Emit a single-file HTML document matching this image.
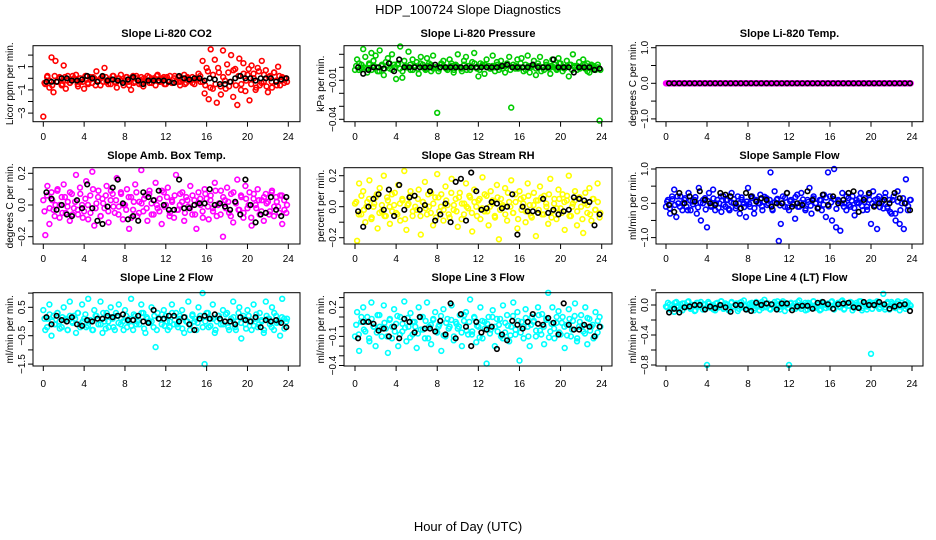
<!DOCTYPE html>
<html><head><meta charset="utf-8"><style>
html,body{margin:0;padding:0;background:#fff}
svg{display:block;font-family:"Liberation Sans",Arial,sans-serif}
</style></head><body>
<svg id="chart" width="936" height="540" viewBox="0 0 936 540" xmlns="http://www.w3.org/2000/svg">
<text x="468" y="14" font-size="13" text-anchor="middle">HDP_100724  Slope Diagnostics</text>
<text x="468" y="531" font-size="13" text-anchor="middle">Hour of Day (UTC)</text>
</svg>
<script>
// ---- data (values per panel; colored = samples, core = dense band samples, black = averages) ----
const xTickLabels = ["0","4","8","12","16","20","24"];
const co2Vals = [-3.3,-0.5,0.2,-0.8,1.8,-1.2,1.5,-0.3,0.1,-0.6,1.1,-0.9,0.2,-0.4,-0.2,0.0,0.3,-0.7,-0.3,-0.1,-0.9,0.2,-0.5,0.1,-0.4,0.0,0.6,-0.2,-0.6,0.1,0.9,-0.3,-0.1,-0.5,0.2,-0.3,-0.8,0.0,0.3,-0.4,-0.2,0.1,-0.6,-1.0,0.2,-0.3,0.0,-0.5,0.1,-0.7,-0.2,0.2,-0.4,-0.1,0.0,-0.6,0.3,-0.3,-0.1,0.1,-0.5,-0.2,0.2,-0.4,0.0,-0.3,0.1,-0.6,-0.1,0.3,-0.4,0.0,-0.2,0.1,-0.5,-0.1,0.4,-0.3,1.5,-1.3,0.9,-1.8,2.5,-0.9,1.6,-2.1,0.5,-1.4,2.4,-0.2,1.2,-0.7,2.0,-1.6,0.8,-2.3,1.7,-0.5,1.3,-1.1,0.3,-1.9,1.1,0.4,-1.0,0.9,-0.6,1.5,-0.3,0.7,-1.2,0.2,-0.8,0.5,-0.2,1.0,-0.6,0.1,-0.4,0.0];
const co2Core = [-0.4,0.1,-0.2,-0.6,0.2,-0.3,0.0,-0.5,0.1,-0.2,-0.4,0.2,-0.1,-0.5,0.0,-0.3,0.2,-0.4,-0.1,0.1,-0.6,-0.2,0.0,-0.3,0.1,-0.5,-0.1,0.2,-0.4,0.0,-0.2,-0.6,0.1,-0.3,0.0,-0.4,0.2,-0.1,-0.5,0.0,-0.2,0.1,-0.4,-0.1,0.2,-0.3,0.0,-0.5,0.1,-0.2,-0.4,0.2,-0.1,-0.3,0.0,-0.5,0.1,-0.2,-0.4,0.0,-0.1,0.2,-0.3,-0.6,0.6,-0.8,0.3,-0.5,0.9,-0.7,0.1,-0.9,0.5,-0.3,0.7,-0.6,0.2,-1.0,0.4,-0.2,0.8,-0.5,0.0,-0.8,0.6,-0.4,0.3,-0.7,0.1,-0.3,0.5,-0.6,0.2,-0.2,0.0,-0.3];
const co2Avg = [-0.3,-0.3,-0.3,0.0,0.0,-0.2,-0.2,-0.1,0.2,0.0,-0.3,0.2,-0.2,-0.1,-0.2,-0.4,-0.1,0.1,-0.2,-0.5,-0.2,-0.2,-0.2,-0.2,-0.3,-0.4,0.2,0.0,-0.1,0.0,0.0,-0.2,0.0,-0.1,-0.5,-0.5,-0.3,0.0,0.2,0.0,0.0,-0.2,0.0,0.0,0.0,-0.3,-0.1,0.0];
const presVals = [-2,6,3,-1,14,8,-4,2,11,5,9,-3,13,1,-6,4,7,-1,10,2,-9,3,16,-8,5,0,12,-2,6,1,4,-5,8,2,-1,7,3,-3,9,0,-35,-1,3,5,0,-2,6,1,-4,2,10,0,-3,5,8,1,-2,4,11,0,-7,3,2,-5,6,1,-1,9,0,4,-2,5,1,-4,3,8,-31,2,-1,6,0,7,-3,2,9,-4,1,5,-6,3,8,0,-2,4,1,-5,6,2,-1,7,3,-3,0,5,-7,2,10,1,-2,4,0,6,-1,3,-4,2,1,-2,0,-41];
const presCore = [1,-2,2,0,-1,3,-2,1,0,-3,2,-1,1,3,-2,0,2,-1,-3,1,0,2,-2,1,-1,3,0,-2,1,2,-1,0,-3,2,1,-1,0,3,-2,1,0,-1,2,-2,1,0,3,-1,-2,1,2,0,-1,1,-3,2,0,-1,1,2,-2,0,1,-1,3,0,-2,1,0,2,-1,1,-3,0,2,-1,1,0,-2,3,0,-1,1,2,-2,0,1,-1,0,2,-3,1,0,-1,2,-2];
const presAvg = [0,-5,-2,0,0,-1,3,-3,6,0,0,0,0,0,0,2,0,0,0,0,0,0,0,0,0,0,0,0,1,2,0,0,0,0,2,0,0,0,6,0,0,0,-4,0,0,0,-2,-1];
const tempVals = [0,0,0,0,0,0,0,0,0,0,0,0,0,0,0,0,0,0,0,0,0,0,0,0,0,0,0,0,0,0,0,0,0,0,0,0,0,0,0,0,0,0,0,0,0,0,0,0,0,0,0,0,0,0,0,0,0,0,0,0,0,0,0,0,0,0,0,0,0,0,0,0,0,0,0,0,0,0,0,0,0,0,0,0,0,0,0,0,0,0,0,0,0,0,0,0,0,0,0,0,0,0,0,0,0,0,0,0,0,0,0,0,0,0,0,0,0,0,0,0];
const tempCore = [0,0,0,0,0,0,0,0,0,0,0,0,0,0,0,0,0,0,0,0,0,0,0,0,0,0,0,0,0,0,0,0,0,0,0,0,0,0,0,0,0,0,0,0,0,0,0,0,0,0,0,0,0,0,0,0,0,0,0,0,0,0,0,0,0,0,0,0,0,0,0,0,0,0,0,0,0,0,0,0,0,0,0,0,0,0,0,0,0,0,0,0,0,0,0,0];
const tempAvg = [0,0,0,0,0,0,0,0,0,0,0,0,0,0,0,0,0,0,0,0,0,0,0,0,0,0,0,0,0,0,0,0,0,0,0,0,0,0,0,0,0,0,0,0,0,0,0,0];
const ambVals = [0.03,-0.19,0.12,-0.12,0.08,-0.03,0.0,0.1,-0.08,0.05,0.13,-0.05,0.02,-0.1,0.07,-0.02,0.19,-0.06,0.11,0.0,-0.04,0.15,-0.09,0.06,0.21,-0.13,0.01,0.09,-0.07,0.04,-0.02,0.12,-0.11,0.03,0.07,-0.05,0.17,-0.01,0.08,-0.09,0.0,0.1,-0.15,0.05,-0.03,0.13,-0.07,0.02,0.22,-0.04,0.06,-0.1,0.09,0.01,-0.06,0.14,-0.02,0.04,-0.12,0.08,0.0,0.11,-0.05,0.03,-0.08,0.19,-0.03,0.07,0.02,-0.1,0.05,-0.01,0.12,-0.06,0.03,-0.15,0.08,0.0,-0.04,0.1,0.04,-0.09,0.06,-0.02,0.14,-0.07,0.01,0.09,-0.2,0.03,0.11,-0.05,0.07,-0.11,0.02,0.16,-0.03,0.05,-0.08,0.12,-0.02,0.08,-0.13,0.04,0.0,0.1,-0.06,0.03,-0.1,0.07,0.02,-0.04,0.09,-0.07,0.05,-0.01,0.06,-0.12,0.03,-0.05];
const ambCore = [-0.04,0.06,-0.02,0.03,-0.07,0.09,0.0,-0.05,0.05,-0.01,0.08,-0.06,0.02,-0.03,0.07,-0.08,0.04,0.0,-0.05,0.1,-0.02,0.05,-0.07,0.01,0.06,-0.04,0.09,-0.01,0.03,-0.06,0.07,0.0,-0.03,0.05,-0.08,0.02,0.08,-0.05,0.01,0.04,-0.02,0.07,-0.06,0.03,0.0,-0.04,0.09,-0.01,0.05,-0.07,0.02,0.06,-0.03,0.0,0.08,-0.05,0.03,-0.02,0.06,-0.06,0.01,0.04,-0.08,0.07,-0.01,0.03,-0.04,0.09,0.0,-0.06,0.05,-0.02,0.02,-0.07,0.08,0.01,-0.03,0.06,-0.05,0.04,0.0,-0.08,0.07,-0.02,0.03,-0.04,0.05,0.01,-0.06,0.08,-0.01,0.02,-0.05,0.06,-0.03,0.0];
const ambAvg = [0.08,0.04,-0.03,0.0,-0.06,-0.07,0.03,-0.02,0.13,-0.02,-0.1,-0.12,-0.01,0.11,0.16,0.01,-0.09,-0.07,-0.1,0.08,0.05,0.03,0.09,0.0,-0.03,-0.03,0.16,-0.02,-0.02,0.0,0.01,0.01,0.1,0.0,0.01,-0.01,-0.03,0.02,-0.06,0.16,0.0,-0.11,-0.06,-0.05,0.05,-0.03,-0.07,0.05];
const rhVals = [0.02,-0.22,0.15,-0.05,0.1,-0.1,0.03,0.17,-0.08,0.0,0.06,-0.14,0.12,-0.03,0.2,-0.06,0.04,-0.11,0.08,0.01,-0.04,0.14,-0.09,0.05,0.23,-0.15,0.02,0.1,-0.06,0.07,-0.02,0.11,-0.18,0.03,0.16,-0.05,0.0,0.09,-0.12,0.06,0.21,-0.03,0.08,-0.09,0.13,0.01,-0.07,0.18,-0.02,0.05,-0.13,0.09,0.02,-0.05,0.15,-0.01,0.06,-0.16,0.11,0.0,0.04,-0.08,0.19,-0.03,0.07,-0.12,0.1,0.02,-0.06,0.14,-0.21,0.05,0.0,0.12,-0.09,0.03,0.17,-0.04,0.08,-0.14,0.1,-0.02,0.06,-0.1,0.15,0.01,-0.07,0.09,-0.19,0.04,0.13,-0.05,0.07,0.02,-0.11,0.18,-0.03,0.05,-0.08,0.11,-0.01,0.08,-0.15,0.04,0.2,-0.06,0.02,0.1,-0.12,0.06,0.0,-0.17,0.09,-0.04,0.12,-0.09,0.05,-0.02,0.15,-0.07];
const rhCore = [0.03,-0.05,0.07,-0.02,0.0,0.05,-0.07,0.02,0.08,-0.04,0.01,-0.06,0.06,0.0,-0.03,0.09,-0.05,0.02,0.04,-0.08,0.01,0.07,-0.03,0.0,0.05,-0.06,0.03,-0.01,0.08,-0.04,0.02,-0.07,0.06,0.0,-0.02,0.04,-0.05,0.09,0.01,-0.03,0.06,-0.08,0.02,0.0,0.07,-0.04,0.03,-0.06,0.05,-0.01,0.08,-0.03,0.0,0.04,-0.07,0.06,-0.02,0.01,-0.05,0.09,0.0,-0.04,0.03,-0.08,0.05,0.02,-0.03,0.07,-0.06,0.01,0.04,-0.02,0.06,-0.05,0.0,0.08,-0.07,0.02,-0.01,0.05,-0.04,0.03,0.07,-0.06,0.0,0.04,-0.03,0.06,-0.08,0.02,0.01,-0.05,0.05,-0.02,0.03,-0.04];
const rhAvg = [-0.03,-0.13,0.0,0.05,0.08,-0.02,0.11,-0.06,0.14,-0.02,0.06,0.07,-0.02,0.01,0.1,-0.09,-0.05,0.02,-0.1,0.16,0.18,-0.09,0.22,0.1,-0.02,-0.01,0.03,0.02,-0.01,0.0,0.08,-0.18,0.0,-0.03,-0.03,-0.04,0.05,-0.04,-0.02,-0.05,-0.03,-0.02,0.06,0.05,0.04,0.03,-0.12,-0.05];
const flowVals = [-0.1,0.1,-0.3,0.2,0.4,-0.4,0.0,0.2,-0.2,0.1,-0.1,0.3,-0.2,0.05,0.1,-0.3,0.45,-0.5,0.0,0.15,-0.7,0.3,-0.1,0.4,-0.2,0.1,0.0,-0.25,0.2,-0.1,0.1,-0.2,0.3,0.0,-0.15,0.2,-0.3,0.1,0.0,-0.4,0.45,-0.1,0.2,-0.3,0.1,0.0,0.25,-0.2,0.05,0.15,0.0,0.9,-0.2,0.35,0.1,-1.1,-0.6,0.2,-0.1,0.3,-0.2,0.1,0.0,-0.45,0.25,-0.1,0.3,0.0,-0.2,0.1,0.45,-0.3,0.2,0.0,-0.15,0.1,-0.2,0.25,-0.4,0.9,0.2,-0.5,1.0,-0.7,0.1,-0.8,0.3,0.0,-0.2,0.15,-0.1,0.2,-0.35,0.1,0.0,0.3,-0.2,0.15,-0.1,0.25,-0.6,0.35,0.1,-0.75,0.2,0.0,-0.15,0.3,-0.1,0.1,-0.3,0.2,-0.5,0.35,-0.6,0.0,-0.75,0.7,-0.2,0.1];
const flowCore = [0.05,-0.15,0.12,-0.05,0.2,-0.1,0.0,0.15,-0.2,0.08,-0.03,0.18,-0.12,0.02,0.1,-0.18,0.06,-0.07,0.14,0.0,-0.13,0.2,-0.04,0.09,-0.16,0.03,0.12,-0.08,0.0,0.17,-0.11,0.05,-0.02,0.15,-0.14,0.07,0.0,-0.09,0.19,-0.05,0.1,-0.17,0.03,0.13,-0.06,0.0,0.16,-0.12,0.06,-0.03,0.18,-0.1,0.02,0.11,-0.15,0.04,-0.07,0.14,0.0,-0.12,0.09,-0.04,0.17,-0.09,0.03,0.12,-0.16,0.06,0.0,-0.1,0.2,-0.05,0.08,-0.14,0.02,0.15,-0.08,0.04,-0.19,0.1,0.0,-0.06,0.13,-0.11,0.05,0.18,-0.15,-0.25,0.1,-0.3,0.05,-0.2,0.15,0.0,-0.08,0.1];
const flowAvg = [-0.05,-0.25,0.3,0.0,0.2,0.05,0.35,0.1,0.0,-0.05,0.3,0.25,0.2,0.0,-0.15,0.3,0.2,0.05,0.15,0.1,-0.1,0.0,0.0,0.3,-0.1,0.0,-0.05,0.35,0.1,-0.15,0.25,-0.05,0.2,0.0,0.1,0.3,0.35,-0.25,0.1,0.3,-0.1,0.0,0.1,0.0,0.3,0.15,0.0,-0.2];
const l2Vals = [0.4,-0.3,0.1,0.6,-0.5,0.2,-0.1,0.3,0.0,-0.2,0.5,0.1,-0.3,0.7,0.0,0.2,-0.4,0.3,-0.1,0.6,0.1,-0.2,0.8,0.0,-0.3,0.4,0.2,-0.1,0.7,-0.4,0.0,0.3,-0.2,0.5,0.1,-0.3,0.2,0.6,-0.1,0.0,0.4,-0.2,0.1,0.8,-0.3,0.2,0.0,-0.1,0.6,0.3,-0.4,0.1,0.0,0.5,-0.2,-0.9,0.3,0.1,-0.1,0.4,0.2,-0.3,0.0,0.6,-0.1,0.3,-0.2,0.1,0.4,-0.4,0.0,0.7,-0.1,0.2,0.0,-0.3,0.5,0.1,1.0,-1.5,0.3,-0.2,0.1,0.6,-0.4,0.0,0.2,-0.1,0.4,0.0,0.3,-0.3,0.1,0.7,-0.2,0.0,0.5,-0.6,0.2,-0.1,0.4,0.0,-0.3,0.6,0.1,-0.2,0.3,0.0,-0.4,0.7,0.1,-0.1,0.5,-0.3,0.2,0.0,-0.5,0.8,0.1,0.0];
const l2Core = [0.1,-0.2,0.25,0.0,-0.1,0.3,-0.25,0.15,0.05,-0.3,0.2,-0.05,0.1,0.3,-0.2,0.0,0.25,-0.15,0.05,-0.3,0.2,0.1,-0.1,0.3,-0.25,0.0,0.15,-0.2,0.3,-0.05,0.1,-0.3,0.2,0.0,-0.15,0.25,-0.1,0.05,0.3,-0.25,0.15,-0.05,0.0,0.2,-0.3,0.1,0.25,-0.15,0.0,-0.2,0.3,0.05,-0.1,0.2,-0.25,0.15,0.0,-0.3,0.25,0.1,-0.05,0.2,-0.2,0.0,0.3,-0.15,0.1,-0.3,0.2,0.05,-0.1,0.25,-0.2,0.0,0.15,-0.3,0.3,-0.05,0.1,-0.25,0.2,0.0,-0.15,0.25,-0.1,0.05,-0.3,0.2,0.1,-0.2,0.3,-0.05,0.0,0.15,-0.25,0.1];
const l2Avg = [0.15,-0.1,0.2,0.05,0.0,0.15,-0.1,-0.15,0.05,0.0,0.1,0.1,0.2,0.15,0.2,0.25,0.05,0.05,0.2,0.0,-0.05,0.4,0.1,0.1,0.2,0.2,0.0,0.15,-0.1,-0.3,0.1,0.2,0.1,0.25,0.1,0.0,0.0,-0.1,0.15,0.05,0.0,0.15,-0.2,0.05,0.0,0.05,-0.05,-0.2];
const l3Vals = [-0.1,0.15,-0.25,0.05,0.2,-0.05,0.1,-0.15,0.25,0.0,-0.2,0.12,0.0,-0.1,0.22,-0.02,-0.27,0.08,-0.12,0.18,0.03,-0.2,0.1,-0.05,0.26,-0.15,0.0,0.14,-0.08,0.05,-0.22,0.2,-0.03,0.1,-0.12,0.25,0.0,-0.18,0.07,0.15,-0.06,0.02,-0.25,0.18,-0.1,0.08,0.0,0.22,-0.14,0.05,-0.02,0.12,-0.2,0.06,0.15,-0.08,0.28,-0.05,0.1,-0.16,0.0,0.2,-0.12,0.05,-0.38,0.1,-0.03,0.17,-0.2,0.08,0.02,-0.1,0.22,-0.06,0.12,-0.15,0.0,0.25,-0.08,0.15,-0.35,0.05,-0.12,0.18,0.0,-0.2,0.1,0.06,-0.1,0.2,-0.04,0.13,-0.18,0.08,0.35,-0.05,0.2,-0.12,0.04,0.16,-0.08,0.1,-0.22,0.02,0.18,-0.1,0.06,0.24,-0.15,0.0,0.12,-0.05,0.2,-0.18,0.08,0.0,-0.12,0.15,-0.06,0.1];
const l3Core = [0.02,-0.08,0.1,-0.03,0.05,-0.12,0.08,0.0,-0.06,0.12,-0.02,0.04,-0.1,0.07,0.0,-0.05,0.11,-0.08,0.03,-0.01,0.09,-0.11,0.05,0.0,-0.07,0.1,-0.03,0.06,-0.12,0.02,0.08,-0.05,0.0,0.11,-0.09,0.04,-0.02,0.07,-0.1,0.03,0.0,-0.06,0.12,-0.04,0.05,-0.08,0.09,0.01,-0.11,0.06,-0.02,0.03,-0.07,0.1,0.0,-0.05,0.08,-0.12,0.04,0.01,-0.09,0.11,-0.03,0.06,-0.06,0.0,0.09,-0.1,0.02,0.05,-0.04,0.12,-0.08,0.0,0.07,-0.11,0.03,-0.02,0.1,-0.06,0.04,0.0,-0.09,0.08,-0.03,0.11,-0.12,0.05,0.01,-0.07,0.09,-0.04,0.02,-0.1,0.06,0.0];
const l3Avg = [-0.12,0.05,0.05,0.03,-0.04,-0.02,-0.1,0.0,-0.12,0.08,0.05,-0.06,0.1,-0.02,-0.02,-0.05,0.06,-0.08,0.24,-0.12,0.13,0.0,-0.2,0.05,-0.06,-0.03,0.0,-0.23,-0.08,-0.14,0.06,0.02,-0.02,0.05,0.13,0.03,0.02,0.09,0.04,-0.08,0.24,0.02,-0.03,-0.03,0.02,0.0,-0.1,0.0];
const l4Vals = [-0.02,0.03,-0.06,0.0,-0.09,0.04,-0.03,0.01,-0.07,0.02,-0.01,0.05,-0.05,0.0,-0.08,0.03,-0.02,0.04,-0.06,0.01,-0.8,0.02,-0.04,0.0,-0.07,0.03,-0.01,0.05,-0.05,0.02,0.0,-0.06,0.04,-0.02,0.01,-0.08,0.03,-0.03,0.06,-0.01,-0.05,0.02,0.0,-0.07,0.04,-0.02,0.01,-0.04,0.07,-0.03,0.02,-0.06,0.0,0.04,-0.05,0.01,-0.02,0.05,-0.08,0.0,-0.8,0.03,-0.04,0.02,-0.01,0.06,-0.05,0.0,0.03,-0.06,0.01,-0.03,0.05,-0.02,0.0,-0.07,0.04,0.01,-0.04,0.02,-0.01,0.05,-0.06,0.0,0.03,-0.03,0.06,-0.05,0.02,-0.01,0.04,-0.07,0.0,0.03,-0.02,0.05,-0.04,0.01,-0.06,0.02,-0.65,0.03,-0.01,0.05,-0.05,0.0,0.15,-0.03,0.02,-0.06,0.04,0.0,-0.04,0.02,-0.07,0.03,-0.01,0.05,-0.03,0.0];
const l4Core = [-0.03,0.01,-0.05,0.03,-0.01,-0.06,0.02,-0.03,0.04,-0.04,0.0,-0.07,0.03,-0.02,0.01,-0.05,0.04,-0.01,-0.06,0.02,-0.03,0.05,-0.04,0.0,-0.07,0.03,-0.02,0.02,-0.05,0.04,-0.01,-0.06,0.01,0.03,-0.04,0.0,-0.07,0.04,-0.02,0.02,-0.05,0.01,-0.03,0.05,-0.06,0.0,0.03,-0.04,0.02,-0.01,-0.05,0.04,-0.02,0.0,-0.07,0.03,-0.03,0.05,-0.04,0.01,-0.06,0.02,0.0,-0.03,0.04,-0.05,0.01,-0.02,0.05,-0.06,0.02,-0.01,0.03,-0.04,0.0,0.05,-0.07,0.02,-0.02,0.04,-0.05,0.01,0.03,-0.03,0.0,-0.06,0.04,-0.01,0.02,-0.04,0.05,-0.02,0.0,-0.05,0.03,-0.01];
const l4Avg = [-0.1,-0.05,-0.1,-0.03,-0.02,0.0,0.0,-0.06,-0.02,-0.04,0.0,-0.03,-0.09,0.0,0.0,-0.06,-0.08,0.03,0.0,0.02,0.01,-0.06,0.02,0.02,-0.07,-0.02,-0.01,-0.01,-0.05,0.03,0.04,0.01,-0.05,0.01,0.02,0.03,-0.03,-0.04,0.04,0.0,0.0,0.04,0.01,-0.05,-0.02,0.0,0.01,-0.08];
const sampleStep = 0.2, coreStep = 0.25, coreOffset = 0.12, avgStep = 0.5, avgOffset = 0.3;

// ---- panel layout ----
const cols = [{bx:33,bw:267,x0:43.3,x24:288.3,yl:9},{bx:344,bw:268,x0:355,x24:601.7,yl:320},{bx:656,bw:267,x0:666,x24:912,yl:632}];
const rows = [{top:45.7,bot:121.7,title:37,xl:140},{top:167.7,bot:244,title:159,xl:262},{top:292.7,bot:366,title:281,xl:387}];
const panels = [
 {name:"co2",title:"Slope Li-820 CO2",ylab:"Licor ppm per min.",col:"#ff0000",r:0,c:0,v0:0,p0:78.3,v1:1,p1:66.7,ticks:[2,1,0,-1,-2,-3],labs:{"1":"1","-1":"-1","-3":"-3"},vals:co2Vals,core:co2Core,avg:co2Avg},
 {name:"pressure",title:"Slope Li-820 Pressure",ylab:"kPa per min.",col:"#00cc00",r:0,c:1,v0:0,p0:67.3,v1:-10,p1:80.3,ticks:[10,0,-10,-20,-30,-40],labs:{"-10":"-0.01","-40":"-0.04"},vals:presVals,core:presCore,avg:presAvg},
 {name:"temp",title:"Slope Li-820 Temp.",ylab:"degrees C per min.",col:"#ff00ff",r:0,c:2,v0:0,p0:83.3,v1:1,p1:47.7,ticks:[1,0.5,0,-0.5,-1],labs:{"1":"1.0","0":"0.0","-1":"-1.0"},vals:tempVals,core:tempCore,avg:tempAvg},
 {name:"amb-box-temp",title:"Slope Amb. Box Temp.",ylab:"degrees C per min.",col:"#ff00ff",r:1,c:0,v0:0,p0:205,v1:0.2,p1:173.3,ticks:[0.2,0.1,0,-0.1,-0.2],labs:{"0.2":"0.2","0":"0.0","-0.2":"-0.2"},vals:ambVals,core:ambCore,avg:ambAvg},
 {name:"gas-rh",title:"Slope Gas Stream RH",ylab:"percent per min.",col:"#ffff00",r:1,c:1,v0:0,p0:206.7,v1:0.2,p1:175.7,ticks:[0.2,0.1,0,-0.1,-0.2],labs:{"0.2":"0.2","0":"0.0","-0.2":"-0.2"},vals:rhVals,core:rhCore,avg:rhAvg},
 {name:"sample-flow",title:"Slope Sample Flow",ylab:"ml/min per min.",col:"#0000ff",r:1,c:2,v0:0,p0:203.3,v1:1,p1:169,ticks:[1,0.5,0,-0.5,-1],labs:{"1":"1.0","0":"0.0","-1":"-1.0"},vals:flowVals,core:flowCore,avg:flowAvg},
 {name:"line2-flow",title:"Slope Line 2 Flow",ylab:"ml/min per min.",col:"#00ffff",r:2,c:0,v0:0.5,p0:307.3,v1:-0.5,p1:335.7,ticks:[1,0.5,0,-0.5,-1,-1.5],labs:{"0.5":"0.5","-0.5":"-0.5","-1.5":"-1.5"},vals:l2Vals,core:l2Core,avg:l2Avg},
 {name:"line3-flow",title:"Slope Line 3 Flow",ylab:"ml/min per min.",col:"#00ffff",r:2,c:1,v0:0,p0:326.7,v1:0.2,p1:307.3,ticks:[0.3,0.2,0.1,0,-0.1,-0.2,-0.3,-0.4],labs:{"0.2":"0.2","-0.1":"-0.1","-0.4":"-0.4"},vals:l3Vals,core:l3Core,avg:l3Avg},
 {name:"line4-flow",title:"Slope Line 4 (LT) Flow",ylab:"ml/min per min.",col:"#00ffff",r:2,c:2,v0:0,p0:305,v1:-0.4,p1:335,ticks:[0.2,0,-0.2,-0.4,-0.6,-0.8],labs:{"0":"0.0","-0.4":"-0.4","-0.8":"-0.8"},vals:l4Vals,core:l4Core,avg:l4Avg}
];
const NS="http://www.w3.org/2000/svg";
const svg=document.getElementById('chart');
function mk(tag,attrs,parent){const e=document.createElementNS(NS,tag);for(const k in attrs)e.setAttribute(k,attrs[k]);(parent||svg).appendChild(e);return e;}
panels.forEach(p=>{
  const C=cols[p.c],R=rows[p.r];
  const xs=h=>C.x0+(C.x24-C.x0)*h/24;
  const ys=v=>p.p0+(v-p.v0)*(p.p1-p.p0)/(p.v1-p.v0);
  const g=mk('g',{});
  
  
  const t=mk('text',{x:C.bx+C.bw/2,y:R.title,'font-size':11,'font-weight':'bold','text-anchor':'middle'},g);
  t.textContent=p.title;
  
  
  const yl=mk('text',{x:0,y:0,'font-size':10,'text-anchor':'middle',transform:`translate(${C.yl+4},${(R.top+R.bot)/2}) rotate(-90)`},g);
  yl.textContent=p.ylab;
  
  
  const plot=mk('g',{},g);
  
  
  p.vals.forEach((v,i)=>{
    const c=mk('circle',{cx:xs(i*sampleStep).toFixed(1),cy:ys(v).toFixed(1),r:2.4,fill:'none',stroke:p.col,'stroke-width':1.6},plot);
    
    
  });
  p.core.forEach((v,i)=>{
    const c=mk('circle',{cx:xs(i*coreStep+coreOffset).toFixed(1),cy:ys(v).toFixed(1),r:2.4,fill:'none',stroke:p.col,'stroke-width':1.6},plot);
    
    
  });
  p.avg.forEach((v,i)=>{
    const c=mk('circle',{cx:xs(i*avgStep+avgOffset).toFixed(1),cy:ys(v).toFixed(1),r:2.3,fill:'none',stroke:'#000','stroke-width':1.6},plot);
    
    
  });
  const box=mk('rect',{x:C.bx,y:R.top,width:C.bw,height:R.bot-R.top,fill:'none',stroke:'#000','stroke-width':1},g);
  
  
  const ya=mk('g',{},g);
  
  
  p.ticks.forEach(tv=>{
    const y=ys(tv);
    mk('line',{x1:C.bx-5,x2:C.bx,y1:y,y2:y,stroke:'#000'},ya);
    const lab=p.labs[String(tv)];
    if(lab!==undefined){
      const tl=mk('text',{'font-size':10,'text-anchor':'middle',transform:`translate(${C.bx-8},${y}) rotate(-90)`},ya);
      tl.textContent=lab.replace('-','\u2212');
    }
  });
  const xa=mk('g',{},g);
  
  
  xTickLabels.forEach(l=>{
    const x=xs(+l);
    mk('line',{x1:x,x2:x,y1:R.bot,y2:R.bot+5,stroke:'#000'},xa);
    const tl=mk('text',{x:x,y:R.xl,'font-size':10,'text-anchor':'middle'},xa);
    tl.textContent=l;
  });
});
</script>
</body></html>
